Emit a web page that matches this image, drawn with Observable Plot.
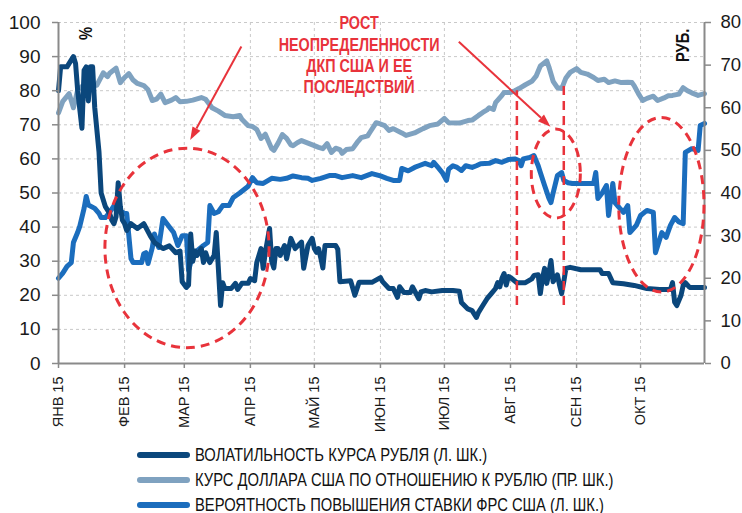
<!DOCTYPE html>
<html>
<head>
<meta charset="utf-8">
<script src="https://cdn.jsdelivr.net/npm/d3@7"></script>
<script src="https://cdn.jsdelivr.net/npm/@observablehq/plot@0.6"></script>
<style>
  body { margin: 0; background: #fff; }
  #wrap { width: 742px; height: 513px; overflow: hidden; position: relative; }
  #legend { position: relative; height: 81px; color: #111; }
  .row { position: absolute; left: 137px; height: 24px; display: flex; align-items: center; white-space: nowrap; }
  .sw { width: 53px; height: 6px; border-radius: 3px; margin-right: 5px; flex: none; }
  .lt { display: inline-block; transform-origin: left center; font-size: 18px; }
</style>
</head>
<body>
<div id="wrap"><div id="chart"></div><div id="legend"></div></div>
<script>
// ---------- DATA ----------
const monthTicks = ["2015-01-01","2015-02-01","2015-03-01","2015-04-01","2015-05-01","2015-06-01","2015-07-01","2015-08-01","2015-09-01","2015-10-01"];
const monthLabels = ["ЯНВ 15","ФЕВ 15","МАР 15","АПР 15","МАЙ 15","ИЮН 15","ИЮЛ 15","АВГ 15","СЕН 15","ОКТ 15"];
const leftTicks = [0,10,20,30,40,50,60,70,80,90,100];
const rightTicks = [0,10,20,30,40,50,60,70,80];

const seriesNames = [
  "ВОЛАТИЛЬНОСТЬ КУРСА РУБЛЯ (Л. ШК.)",
  "КУРС ДОЛЛАРА США ПО ОТНОШЕНИЮ К РУБЛЮ (ПР. ШК.)",
  "ВЕРОЯТНОСТЬ ПОВЫШЕНИЯ СТАВКИ ФРС США (Л. ШК.)"
];
const seriesColors = ["#0b477c", "#7fa2c0", "#1b6dbd"];

// Volatility of the rouble exchange rate, % (left axis)
const volatility = [["2015-01-01",80],["2015-01-02",87],["2015-01-05",87],["2015-01-06",88],["2015-01-08",90],["2015-01-09",88],["2015-01-10",80],["2015-01-12",69],["2015-01-13",86],["2015-01-14",87],["2015-01-15",77],["2015-01-16",87],["2015-01-17",87],["2015-01-18",75],["2015-01-20",62],["2015-01-21",50],["2015-01-23",46],["2015-01-25",44],["2015-01-26",42],["2015-01-27",41],["2015-01-28",43],["2015-01-29",53],["2015-01-30",46],["2015-01-31",42],["2015-02-01",41],["2015-02-02",39],["2015-02-04",41],["2015-02-07",39.6],["2015-02-10",41],["2015-02-13",37.5],["2015-02-15",35.5],["2015-02-19",33.7],["2015-02-22",34.5],["2015-02-25",32.5],["2015-02-27",33],["2015-02-28",24],["2015-03-02",22.3],["2015-03-03",23],["2015-03-04",38],["2015-03-05",30],["2015-03-06",33],["2015-03-07",31.7],["2015-03-09",33.7],["2015-03-10",29.6],["2015-03-11",32.5],["2015-03-12",30.7],["2015-03-13",29.6],["2015-03-15",31.7],["2015-03-16",38.4],["2015-03-18",17],["2015-03-19",23.7],["2015-03-20",22],["2015-03-23",22],["2015-03-25",23.5],["2015-03-26",21.7],["2015-03-28",23.5],["2015-03-31",23.5],["2015-04-01",24.9],["2015-04-03",24.3],["2015-04-04",29.6],["2015-04-06",33.7],["2015-04-07",27.9],["2015-04-08",32.6],["2015-04-10",39.6],["2015-04-11",30],["2015-04-12",28],["2015-04-13",33.7],["2015-04-14",33.7],["2015-04-15",31.7],["2015-04-17",34.6],["2015-04-18",30.7],["2015-04-20",36.7],["2015-04-22",33.7],["2015-04-25",35.6],["2015-04-26",27.9],["2015-04-28",34.6],["2015-04-30",36.7],["2015-05-01",33.7],["2015-05-02",32.6],["2015-05-03",33.7],["2015-05-04",31],["2015-05-05",28],["2015-05-06",34.6],["2015-05-11",34.6],["2015-05-12",33.5],["2015-05-13",24],["2015-05-18",24.3],["2015-05-20",20],["2015-05-22",23.8],["2015-05-28",23.8],["2015-06-01",25.2],["2015-06-02",24],["2015-06-05",22],["2015-06-07",22],["2015-06-09",19.4],["2015-06-10",22.5],["2015-06-12",20.8],["2015-06-15",20.8],["2015-06-16",22.5],["2015-06-19",19],["2015-06-20",21],["2015-06-22",21.4],["2015-06-25",21],["2015-06-30",21.4],["2015-07-05",21.4],["2015-07-08",21.2],["2015-07-09",17.9],["2015-07-12",16],["2015-07-14",15.5],["2015-07-16",13.5],["2015-07-17",15],["2015-07-19",17],["2015-07-21",19],["2015-07-23",20.5],["2015-07-25",22],["2015-07-26",23.7],["2015-07-27",22.5],["2015-07-28",25],["2015-07-29",26.4],["2015-07-30",23],["2015-07-31",25.5],["2015-08-01",25.2],["2015-08-04",23.7],["2015-08-08",23.7],["2015-08-11",24.8],["2015-08-12",25.8],["2015-08-14",26],["2015-08-15",20.5],["2015-08-16",25],["2015-08-17",27.9],["2015-08-18",23.5],["2015-08-19",26.5],["2015-08-20",30.2],["2015-08-21",24],["2015-08-22",25],["2015-08-23",26],["2015-08-24",23],["2015-08-25",20.5],["2015-08-26",24],["2015-08-27",27.9],["2015-08-29",28.2],["2015-09-03",27.5],["2015-09-12",27.5],["2015-09-13",26.4],["2015-09-16",26.4],["2015-09-18",23.7],["2015-09-23",23.4],["2015-09-28",22.9],["2015-10-04",22],["2015-10-10",21.7],["2015-10-15",21.7],["2015-10-16",23.7],["2015-10-17",18],["2015-10-18",17],["2015-10-20",20],["2015-10-21",22.9],["2015-10-22",23.7],["2015-10-24",22.3],["2015-10-31",22.3]];

// USD/RUB exchange rate, roubles (right axis)
const usdRub = [["2015-01-01",58.8],["2015-01-03",61.5],["2015-01-06",63.3],["2015-01-08",60],["2015-01-10",64.2],["2015-01-12",65],["2015-01-15",65.5],["2015-01-17",65.2],["2015-01-19",65.3],["2015-01-22",68.2],["2015-01-24",67.3],["2015-01-25",68.1],["2015-01-28",69.3],["2015-01-30",65.9],["2015-02-01",67.1],["2015-02-03",68],["2015-02-05",66.5],["2015-02-07",65.7],["2015-02-10",65.2],["2015-02-12",64.2],["2015-02-14",61.7],["2015-02-16",62],["2015-02-18",63.2],["2015-02-20",61.2],["2015-02-23",61.8],["2015-02-25",62.4],["2015-02-27",61.4],["2015-03-02",61.5],["2015-03-05",61.8],["2015-03-09",62.4],["2015-03-11",62],["2015-03-14",60],["2015-03-17",59.2],["2015-03-20",58.2],["2015-03-24",57.9],["2015-03-27",58.2],["2015-03-28",57.3],["2015-03-31",55.8],["2015-04-02",55.6],["2015-04-04",54.9],["2015-04-06",52.8],["2015-04-08",53.8],["2015-04-11",50.4],["2015-04-12",50],["2015-04-14",51.7],["2015-04-16",53.7],["2015-04-18",52.8],["2015-04-20",51.3],["2015-04-21",51.1],["2015-04-23",51.8],["2015-04-25",52.3],["2015-04-28",51.7],["2015-05-01",51.1],["2015-05-03",50.7],["2015-05-05",50.4],["2015-05-07",51.6],["2015-05-09",49.5],["2015-05-11",50.5],["2015-05-13",50.2],["2015-05-14",49.3],["2015-05-16",50.2],["2015-05-19",50.4],["2015-05-21",51.8],["2015-05-23",53],["2015-05-26",53.4],["2015-05-27",54.2],["2015-05-30",56.5],["2015-06-01",56.2],["2015-06-03",55.8],["2015-06-05",54.7],["2015-06-07",55.1],["2015-06-11",54.1],["2015-06-13",53.5],["2015-06-17",54.1],["2015-06-19",54.6],["2015-06-21",55.1],["2015-06-24",55.8],["2015-06-28",56.2],["2015-07-01",57.5],["2015-07-03",56.5],["2015-07-08",56.4],["2015-07-12",57],["2015-07-14",57.1],["2015-07-17",58.2],["2015-07-19",58.9],["2015-07-21",59.5],["2015-07-22",60],["2015-07-24",59.6],["2015-07-25",61.2],["2015-07-28",62.9],["2015-07-29",63.6],["2015-08-01",63.6],["2015-08-03",64],["2015-08-05",64.5],["2015-08-08",65.4],["2015-08-11",66.2],["2015-08-13",67.4],["2015-08-15",69.8],["2015-08-18",71],["2015-08-19",69.6],["2015-08-21",66.2],["2015-08-23",64.7],["2015-08-25",64.5],["2015-08-27",67],["2015-08-29",68.3],["2015-09-01",69.2],["2015-09-03",68.3],["2015-09-06",67.9],["2015-09-09",67.1],["2015-09-11",66.4],["2015-09-14",66.7],["2015-09-16",65.9],["2015-09-19",66.3],["2015-09-22",65.9],["2015-09-25",66],["2015-09-27",65.9],["2015-09-28",65.2],["2015-09-30",63.3],["2015-10-02",61.7],["2015-10-04",62.2],["2015-10-07",62.7],["2015-10-09",61.7],["2015-10-12",62.3],["2015-10-14",62.8],["2015-10-16",62.9],["2015-10-19",63.2],["2015-10-21",64.7],["2015-10-23",64],["2015-10-25",63.5],["2015-10-28",62.9],["2015-10-31",63.3]];

// Probability of a US Fed rate hike, % (left axis)
const hikeProbability = [["2015-01-01",25],["2015-01-03",26.5],["2015-01-05",28.5],["2015-01-07",29.6],["2015-01-08",35.5],["2015-01-10",38.5],["2015-01-11",40.3],["2015-01-13",45.5],["2015-01-14",49],["2015-01-15",46.5],["2015-01-18",45.5],["2015-01-20",44],["2015-01-21",42.8],["2015-01-23",42.8],["2015-01-25",44.3],["2015-01-28",47.2],["2015-01-29",45],["2015-02-01",44],["2015-02-02",44],["2015-02-04",30.8],["2015-02-05",29.6],["2015-02-09",29.6],["2015-02-10",32.2],["2015-02-11",32.5],["2015-02-12",29.3],["2015-02-14",34],["2015-02-15",38],["2015-02-17",34],["2015-02-19",42.5],["2015-02-22",40],["2015-02-24",38.4],["2015-02-26",34.6],["2015-02-28",37.5],["2015-03-02",37.5],["2015-03-03",27.3],["2015-03-05",31.7],["2015-03-07",33.1],["2015-03-10",34.6],["2015-03-12",35.5],["2015-03-13",46.3],["2015-03-15",44],["2015-03-17",44.5],["2015-03-19",46.3],["2015-03-22",46.3],["2015-03-24",48.7],["2015-03-27",50],["2015-03-31",52],["2015-04-02",54.5],["2015-04-04",53],["2015-04-07",52.8],["2015-04-11",54.3],["2015-04-15",54],["2015-04-18",54.3],["2015-04-21",55],["2015-04-25",54.5],["2015-04-28",54.3],["2015-04-30",53.7],["2015-05-04",54.3],["2015-05-08",55.1],["2015-05-11",55.1],["2015-05-14",54.5],["2015-05-19",55.1],["2015-05-23",54.5],["2015-05-28",55.7],["2015-06-01",55],["2015-06-04",54.3],["2015-06-07",53.7],["2015-06-10",53.7],["2015-06-11",57.2],["2015-06-14",56.5],["2015-06-17",57.5],["2015-06-19",58],["2015-06-22",58.7],["2015-06-25",58],["2015-06-26",59],["2015-06-28",57.5],["2015-06-30",56],["2015-07-02",53.7],["2015-07-03",57],["2015-07-05",58],["2015-07-07",57.5],["2015-07-09",56.6],["2015-07-11",58],["2015-07-14",57.5],["2015-07-16",58],["2015-07-18",58.6],["2015-07-22",58.7],["2015-07-25",59.5],["2015-07-28",59],["2015-07-31",59.8],["2015-08-03",60],["2015-08-05",59.5],["2015-08-06",58],["2015-08-07",60],["2015-08-10",60.4],["2015-08-12",61],["2015-08-14",58],["2015-08-15",56],["2015-08-17",52.2],["2015-08-19",48.5],["2015-08-20",47.2],["2015-08-21",50],["2015-08-23",55.1],["2015-08-25",56],["2015-08-26",53.7],["2015-08-28",53],["2015-08-30",52.8],["2015-09-02",52.8],["2015-09-09",52.8],["2015-09-10",56],["2015-09-11",48.4],["2015-09-13",50],["2015-09-15",52.2],["2015-09-16",43.4],["2015-09-18",52.8],["2015-09-19",47.2],["2015-09-21",45.7],["2015-09-23",44.3],["2015-09-25",46.3],["2015-09-26",38.4],["2015-09-29",40.5],["2015-10-01",43.4],["2015-10-04",44.9],["2015-10-07",44.3],["2015-10-08",32.5],["2015-10-11",38.4],["2015-10-13",37],["2015-10-15",40.5],["2015-10-17",42.8],["2015-10-19",41.5],["2015-10-21",41],["2015-10-22",61.9],["2015-10-25",63],["2015-10-28",62.5],["2015-10-29",69.8],["2015-10-31",70.4]];

// Annotation
const annotationLines = ["РОСТ", "НЕОПРЕДЕЛЕННОСТИ", "ДКП США И ЕЕ", "ПОСЛЕДСТВИЙ"];
const annotationAnchor = {date: "2015-05-22", value: 90.6};
const markerLines = [{date: "2015-08-04", from: 17, to: 80}, {date: "2015-08-26", from: 17, to: 83}];
const ellipses = [
  {from: "2015-01-23", to: "2015-04-10", low: 4.5, high: 63},
  {from: "2015-08-11", to: "2015-09-03", low: 42.5, high: 68.6},
  {from: "2015-09-21", to: "2015-10-31", low: 20.8, high: 72}
];
const arrows = [
  {fromDate: "2015-03-28", fromValue: 92.8, toDate: "2015-03-04", toValue: 65.4},
  {fromDate: "2015-07-08", fromValue: 94.2, toDate: "2015-08-20", toValue: 69.3}
];
const unitLabels = [
  {date: "2015-01-14", value: 96.8, text: "%"},
  {date: "2015-10-21", value: 93.3, text: "РУБ."}
];
const xStart = "2015-01-01", xEnd = "2015-10-31";

// ---------- FONTS ----------
function hasFont(name) {
  const c = document.createElement("canvas").getContext("2d");
  const s = "НЕОПРЕДЕЛЕННОСТИ abc 123 WWii";
  c.font = "20px monospace"; const a = c.measureText(s).width;
  c.font = `20px "${name}", monospace`; const b = c.measureText(s).width;
  return Math.abs(a - b) > 0.5;
}
let NARROW = null;
if (hasFont("Liberation Sans Narrow")) NARROW = '"Liberation Sans Narrow"';
else if (hasFont("Arial Narrow")) NARROW = '"Arial Narrow"';
const narrowFamily = NARROW ? NARROW + ", sans-serif" : '"Liberation Sans", Arial, sans-serif';
const squeeze = NARROW ? 1 : 0.82;
const BASE = '"Liberation Sans", Arial, sans-serif';

// ---------- CHART ----------
const K = 100 / 80; // right axis (0..80) mapped onto left axis (0..100)
const RED = "#e8333b";
const AXIS = "#8a8a8a";
const rows = arr => arr.map(([d, v]) => ({date: new Date(d), value: v}));
const monthDates = monthTicks.map(d => new Date(d));
const x0 = new Date(xStart), x1 = new Date(xEnd);

const chart = Plot.plot({
  width: 742, height: 432,
  marginLeft: 58, marginRight: 38, marginTop: 22, marginBottom: 69,
  style: {fontFamily: BASE, background: "#fff", color: "#1a1a1a"},
  x: {type: "utc", domain: [x0, x1]},
  y: {domain: [0, 100]},
  marks: [
    Plot.gridY(leftTicks, {stroke: "#c9c9c9", strokeOpacity: 1, strokeDasharray: "3,3"}),
    Plot.gridX(monthDates, {stroke: "#c9c9c9", strokeOpacity: 1, strokeDasharray: "3,3"}),
    Plot.line(rows(hikeProbability), {x: "date", y: "value", stroke: seriesColors[2], strokeWidth: 5, strokeLinejoin: "round", strokeLinecap: "round"}),
    Plot.line(rows(usdRub), {x: "date", y: d => d.value * K, stroke: seriesColors[1], strokeWidth: 5, strokeLinejoin: "round", strokeLinecap: "round"}),
    Plot.line(rows(volatility), {x: "date", y: "value", stroke: seriesColors[0], strokeWidth: 5, strokeLinejoin: "round", strokeLinecap: "round"}),
    Plot.axisY(leftTicks, {anchor: "left", label: null, tickSize: 6, tickPadding: 12, fontSize: 19, stroke: AXIS, strokeWidth: 1.5, fill: "#1a1a1a"}),
    Plot.axisY(rightTicks.map(v => v * K), {anchor: "right", label: null, tickSize: 6, tickPadding: 10, fontSize: 18.5, stroke: AXIS, strokeWidth: 1.5, fill: "#1a1a1a", tickFormat: d => String(Math.round(d / K))}),
    Plot.axisX(monthDates, {anchor: "bottom", label: null, tickSize: 5, tickPadding: 8, fontSize: 14.5, stroke: AXIS, strokeWidth: 1.5, fill: "#1a1a1a", tickRotate: -90,
      tickFormat: d => monthLabels[monthDates.findIndex(m => +m === +d)]}),
    Plot.ruleX([x0, x1], {stroke: AXIS, strokeWidth: 2}),
    Plot.ruleY([0], {stroke: AXIS, strokeWidth: 2}),
    Plot.ruleX(markerLines, {x: d => new Date(d.date), y1: "from", y2: "to", stroke: RED, strokeWidth: 2.5, strokeDasharray: "9,6"}),
    Plot.text([annotationAnchor], {x: d => new Date(d.date), y: "value", text: () => annotationLines.join("\n"), lineHeight: 1.22, fontSize: 17.5, fontWeight: "bold", fill: RED, fontFamily: narrowFamily}),
    Plot.text(unitLabels, {x: d => new Date(d.date), y: "value", text: "text", rotate: -90, fontSize: 18, fontWeight: "bold", fill: "#111", fontFamily: narrowFamily})
  ]
});
document.getElementById("chart").appendChild(chart);

const svg = d3.select(chart);
if (squeeze !== 1) {
  svg.selectAll('g[aria-label="text"] text').each(function () {
    const t = d3.select(this);
    const tr = t.attr("transform") || "";
    t.attr("transform", tr + ` scale(${squeeze},1)`);
  });
}

// ellipses and arrows placed through Plot's own scales
const xs = chart.scale("x"), ys = chart.scale("y");
const X = d => xs.apply(new Date(d)), Y = v => ys.apply(v);
const ann = svg.append("g").attr("aria-label", "annotations");
for (const e of ellipses) {
  const xa = X(e.from), xb = X(e.to), ya = Y(e.high), yb = Y(e.low);
  ann.append("ellipse")
    .attr("cx", (xa + xb) / 2).attr("cy", (ya + yb) / 2)
    .attr("rx", Math.abs(xb - xa) / 2).attr("ry", Math.abs(yb - ya) / 2)
    .attr("fill", "none").attr("stroke", RED).attr("stroke-width", 3).attr("stroke-dasharray", "9,6");
}
for (const a of arrows) {
  const ax = X(a.fromDate), ay = Y(a.fromValue), bx = X(a.toDate), by = Y(a.toValue);
  const ang = Math.atan2(by - ay, bx - ax);
  const L = 13, W = 4.5;
  const baseX = bx - L * Math.cos(ang), baseY = by - L * Math.sin(ang);
  ann.append("line").attr("x1", ax).attr("y1", ay).attr("x2", baseX).attr("y2", baseY)
    .attr("stroke", RED).attr("stroke-width", 2);
  const px = -Math.sin(ang) * W, py = Math.cos(ang) * W;
  ann.append("path")
    .attr("d", `M${bx},${by}L${baseX + px},${baseY + py}L${baseX - px},${baseY - py}Z`)
    .attr("fill", RED);
}

// ---------- LEGEND ----------
const legend = d3.select("#legend");
const rowTops = [11, 36, 61];
seriesNames.forEach((name, i) => {
  const r = legend.append("div").attr("class", "row").style("top", rowTops[i] + "px");
  r.append("div").attr("class", "sw").style("background", seriesColors[i]);
  r.append("span").attr("class", "lt").text(name)
    .style("font-family", narrowFamily)
    .style("transform", `scaleX(${squeeze})`);
});
</script>
</body>
</html>
